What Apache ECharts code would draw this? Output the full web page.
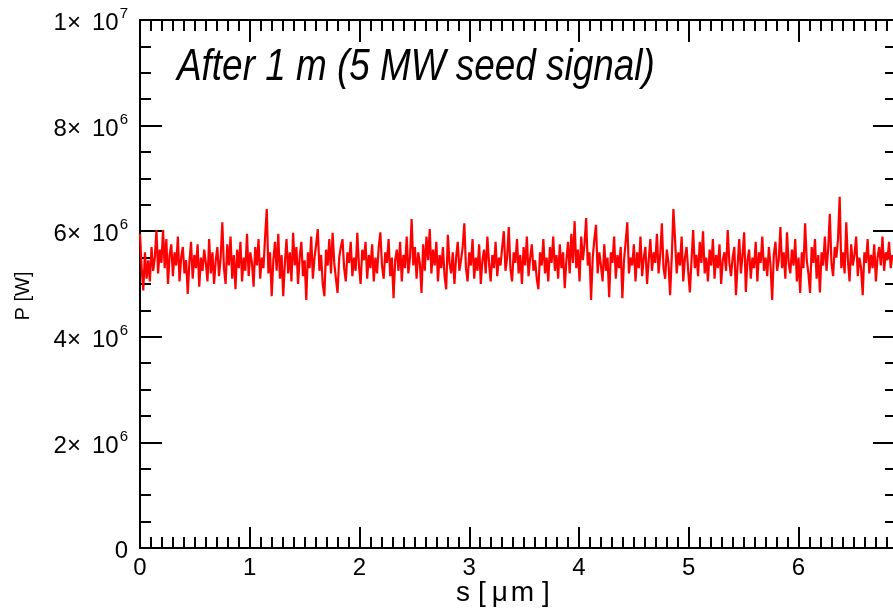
<!DOCTYPE html>
<html>
<head>
<meta charset="utf-8">
<script src="https://cdn.jsdelivr.net/npm/echarts@6/dist/echarts.min.js"></script>
<style>
html,body{margin:0;padding:0;background:#fff;}
#chart{width:893px;height:609px;}
</style>
</head>
<body>
<div id="chart"></div>
<script>
// s step between samples [µm]
const DS = 0.015;
// power in MW
const powerMW = [
5.95,5.3,4.88,5.6,5.1,5.45,5.05,5.7,5.25,5.5,6.02,5.2,5.65,5.4,6.02,5.3,5.85,5.0,5.55,5.75,
5.15,5.6,5.35,5.9,5.05,5.5,5.7,5.2,5.45,4.81,5.4,5.8,5.1,5.55,5.3,5.75,4.95,5.5,5.25,5.65,
5.4,5.05,5.85,5.2,5.6,5.0,5.45,5.7,5.15,5.5,6.17,5.3,5.0,5.75,5.35,5.9,5.1,5.55,4.9,5.65,
5.3,5.8,5.05,5.5,5.25,5.95,5.15,5.6,5.4,4.95,5.7,5.35,5.85,5.1,5.5,5.3,5.9,6.42,5.2,5.6,
4.77,5.45,5.8,5.25,5.95,5.1,5.55,4.77,5.4,5.85,5.2,5.6,5.05,5.97,5.35,5.7,5.0,5.5,5.8,5.15,
5.45,4.70,5.6,5.3,5.9,5.1,5.5,5.75,6.04,5.25,5.55,5.0,4.77,5.65,5.35,5.85,5.2,5.97,5.4,5.1,
4.83,5.5,5.7,5.85,5.3,5.05,5.6,5.4,5.8,5.15,5.5,5.25,5.97,5.35,5.0,5.65,5.45,5.8,5.1,5.55,
5.3,5.75,5.05,5.5,5.2,5.7,5.98,5.35,5.1,5.6,5.4,5.85,5.15,5.5,4.73,5.45,5.65,5.25,5.8,5.05,
5.55,5.3,5.9,5.2,5.5,6.23,5.35,5.7,5.1,5.6,5.4,4.83,5.75,5.25,5.9,5.45,6.04,5.2,5.65,5.35,
5.8,5.05,5.55,5.3,5.7,5.15,4.90,5.93,5.4,5.2,5.6,5.0,5.5,5.8,5.25,5.45,5.7,6.15,5.3,5.05,
5.6,5.35,5.85,5.1,5.5,5.25,5.75,5.0,5.45,5.65,5.2,5.9,5.4,5.05,5.55,5.3,5.8,5.15,5.5,5.35,
5.7,6.0,5.25,5.5,6.08,5.3,5.05,5.6,5.4,5.85,5.2,5.55,5.0,5.7,5.35,5.9,5.15,5.5,5.75,5.25,
5.45,5.1,4.90,5.6,5.35,5.85,5.2,5.5,5.05,5.7,5.4,5.9,5.25,5.55,5.1,5.75,5.3,5.6,4.92,5.45,
5.8,5.2,5.95,5.4,6.19,5.3,5.65,5.05,5.9,5.45,5.75,6.25,5.35,5.6,4.70,5.5,5.85,6.12,5.2,5.6,
5.35,5.05,5.75,5.25,5.5,4.75,5.6,5.4,5.9,5.1,5.55,5.3,5.7,4.73,5.45,5.8,6.17,5.2,5.5,5.35,
5.75,5.05,5.6,5.3,5.9,5.15,5.5,5.7,5.0,5.45,5.85,5.25,5.6,5.4,5.95,5.2,5.55,6.15,5.3,5.1,
5.65,5.4,4.79,5.5,6.42,5.85,5.2,5.6,5.35,5.9,5.05,5.5,5.7,5.25,4.84,5.45,6.02,5.3,5.55,5.15,
5.8,5.4,6.0,5.2,5.5,5.05,5.65,5.35,5.85,5.1,5.55,5.3,5.75,5.0,5.45,5.6,5.25,6.02,5.4,5.15,
5.5,5.7,4.79,5.35,5.85,5.2,5.55,5.98,4.85,5.45,5.65,5.1,5.5,5.3,5.8,5.05,5.6,5.4,5.9,5.25,
5.5,5.15,5.7,5.35,4.70,5.55,5.8,5.25,5.45,6.08,5.3,5.6,5.1,5.98,5.4,5.2,5.65,5.35,5.85,5.05,
5.5,4.83,5.6,5.3,6.15,5.45,5.2,4.83,5.7,5.4,5.85,5.1,5.55,4.84,5.6,5.35,5.9,5.25,5.65,6.33,
5.4,5.15,5.7,5.5,5.85,6.65,5.3,5.6,5.2,6.17,5.45,5.05,5.75,5.35,5.55,5.9,5.15,5.5,5.3,4.79,
5.6,5.4,5.85,5.2,5.55,5.3,5.75,5.05,5.5,5.7,5.35,5.9,5.25,5.6,5.45,5.8,5.3,5.55
];
const xMin = 0, xMax = 6.87;
const yMin = 0, yMax = 1e7;
const titleText = 'After 1 m (5 MW seed signal)';
const yName = 'P [W]';

const seriesData = powerMW.map((v, i) => [i * DS, v * 1e6]);

const FONT = '"Liberation Sans", Arial, Helvetica, sans-serif';
const axisLineStyle = {show: true, onZero: false, lineStyle: {color: '#000', width: 2}};
const noLine = {show: false, onZero: false};
const tickStyle = (len) => ({show: true, inside: true, length: len, lineStyle: {color: '#000', width: 2}});
const noSplit = {show: false};
const gridBox = {left: 140, top: 20, right: -1, bottom: 61, containLabel: false, outerBoundsMode: 'none'};

function yLabel(v) {
  if (v === 0) return '{b|0}';
  const e = Math.floor(Math.log10(v) + 1e-9);
  const m = Math.round(v / Math.pow(10, e));
  return '{b|' + m + '×}{c|10}{s|' + e + '}';
}

const chart = echarts.init(document.getElementById('chart'), null, {renderer: 'canvas'});
chart.setOption({
  animation: false,
  backgroundColor: '#fff',
  graphic: [{
    type: 'text',
    x: 177, y: 67,
    scaleX: 0.82,
    style: {
      text: titleText,
      font: 'italic 45px "Liberation Sans", Arial, sans-serif',
      fill: '#000',
      textAlign: 'left',
      textVerticalAlign: 'middle',
      verticalAlign: 'middle'
    }
  }],
  grid: [Object.assign({}, gridBox), Object.assign({}, gridBox)],
  xAxis: [
    // grid 0: major ticks
    {gridIndex: 0, type: 'value', position: 'bottom', min: xMin, max: xMax, interval: 1,
     axisLine: axisLineStyle, axisTick: tickStyle(21), splitLine: noSplit,
     axisLabel: {show: true, margin: 8, fontSize: 24, color: '#000', fontFamily: FONT, showMaxLabel: false},
     name: '{a|s [}{g|μ}{a|m}{c|]}', nameLocation: 'middle', nameGap: 31, nameMoveOverlap: false,
     nameTextStyle: {fontSize: 28, color: '#000', fontFamily: FONT, padding: [0, 28, 0, 0],
       rich: {a: {fontSize: 28, color: '#000', fontFamily: FONT},
              g: {fontSize: 28, color: '#000', fontFamily: FONT, padding: [0, 3, 0, 6]},
              c: {fontSize: 28, color: '#000', fontFamily: FONT, padding: [0, 0, 0, 8]}}}},
    {gridIndex: 0, type: 'value', position: 'top', min: xMin, max: xMax, interval: 1,
     axisLine: axisLineStyle, axisTick: tickStyle(22), splitLine: noSplit, axisLabel: {show: false}},
    // grid 1: minor ticks
    {gridIndex: 1, type: 'value', position: 'bottom', min: xMin, max: xMax, interval: 0.1,
     axisLine: noLine, axisTick: tickStyle(11), splitLine: noSplit, axisLabel: {show: false}},
    {gridIndex: 1, type: 'value', position: 'top', min: xMin, max: xMax, interval: 0.1,
     axisLine: noLine, axisTick: tickStyle(11), splitLine: noSplit, axisLabel: {show: false}}
  ],
  yAxis: [
    {gridIndex: 0, type: 'value', position: 'left', min: yMin, max: yMax, interval: 2e6,
     axisLine: axisLineStyle, axisTick: tickStyle(22), splitLine: noSplit,
     axisLabel: {show: true, margin: 12, formatter: yLabel, color: '#000',
       rich: {b: {fontSize: 24, color: '#000', fontFamily: FONT, padding: [7, 0, 0, 0]},
              c: {fontSize: 24, color: '#000', fontFamily: FONT, padding: [7, 0, 0, 11]},
              s: {fontSize: 15, color: '#000', fontFamily: FONT, padding: [0, 0, 12, 1]}}},
     name: yName, nameLocation: 'middle', nameGap: 107, nameMoveOverlap: false,
     nameTextStyle: {fontSize: 20, color: '#000', fontFamily: FONT, padding: [0, 24, 0, 0]}},
    {gridIndex: 0, type: 'value', position: 'right', min: yMin, max: yMax, interval: 2e6,
     axisLine: axisLineStyle, axisTick: tickStyle(21), splitLine: noSplit, axisLabel: {show: false}},
    {gridIndex: 1, type: 'value', position: 'left', min: yMin, max: yMax, interval: 5e5,
     axisLine: noLine, axisTick: tickStyle(11), splitLine: noSplit, axisLabel: {show: false}},
    {gridIndex: 1, type: 'value', position: 'right', min: yMin, max: yMax, interval: 5e5,
     axisLine: noLine, axisTick: tickStyle(9), splitLine: noSplit, axisLabel: {show: false}}
  ],
  series: [{
    type: 'line',
    xAxisIndex: 0, yAxisIndex: 0,
    data: seriesData,
    showSymbol: false,
    symbol: 'none',
    lineStyle: {color: '#ff0000', width: 2.2},
    clip: true
  }]
});
</script>
</body>
</html>
